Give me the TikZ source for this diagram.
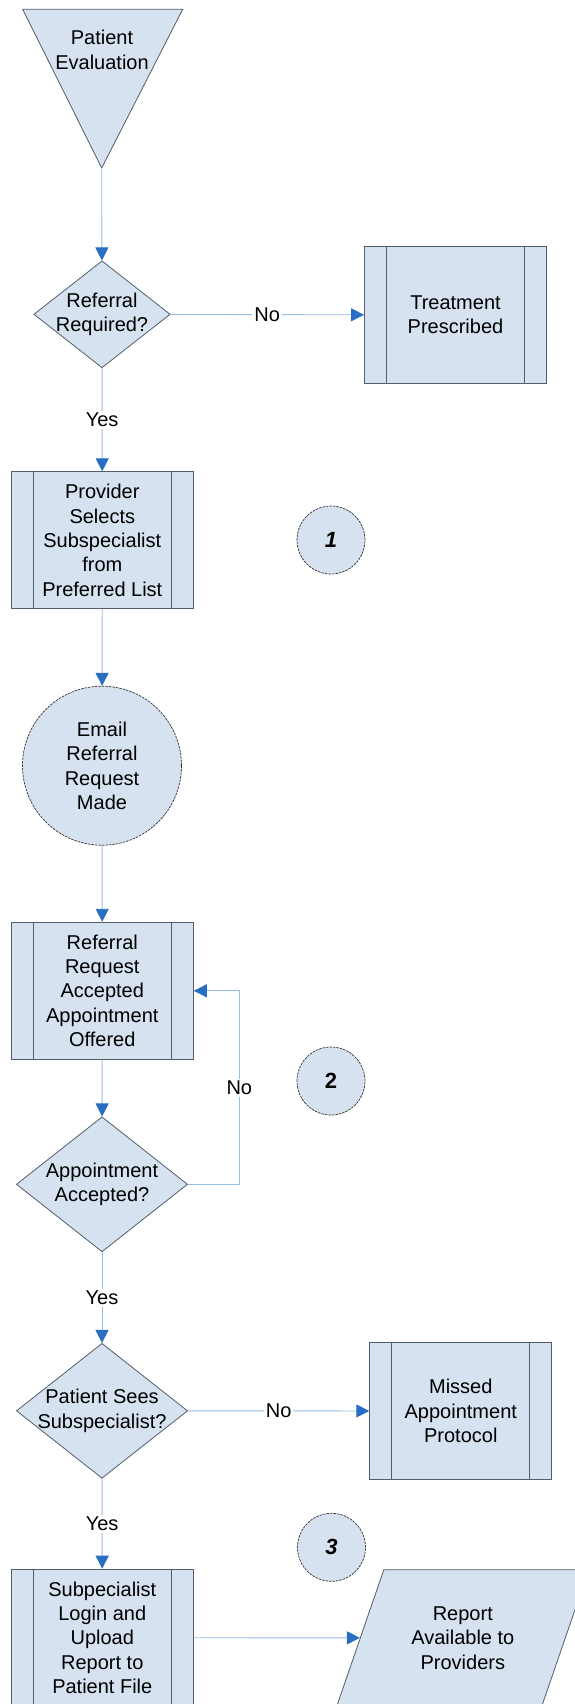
\documentclass[tikz,border=0pt]{standalone}
\usepackage{fontspec}
\setmainfont{Liberation Sans}
\usetikzlibrary{shapes.geometric,arrows.meta}
\definecolor{fillc}{RGB}{214,226,239}
\definecolor{bordc}{RGB}{82,94,108}
\definecolor{linec}{RGB}{150,190,230}
\definecolor{arrowc}{RGB}{40,110,195}
\tikzset{
  txt/.style={font=\fontsize{20}{24.3}\selectfont, align=center, inner sep=0pt, text=black},
  proc/.style={rectangle, draw=bordc, fill=fillc, line width=1pt, minimum width=182pt, minimum height=137pt, txt},
  subline/.style={draw=bordc, line width=1pt},
  dia/.style={diamond, draw=bordc, fill=fillc, line width=0.8pt, inner sep=0pt},
  bigcirc/.style={circle, draw=black!80, fill=fillc, line width=0.7pt, dash pattern=on 2.5pt off 1pt, inner sep=0pt, txt},
  numcirc/.style={circle, draw=black!80, fill=fillc, line width=0.7pt, dash pattern=on 2.5pt off 1pt, minimum size=68pt, inner sep=0pt, font=\fontsize{22}{26}\selectfont\bfseries},
  conn/.style={draw=linec, line width=0.9pt, -{Triangle[length=13pt,width=13pt,color=arrowc]}},
  lbl/.style={txt, fill=white, inner sep=2pt}
}
\begin{document}
\begin{tikzpicture}[x=1pt,y=-1pt]
\clip (0,0) rectangle (575,1704);
\fill[white] (0,0) rectangle (575,1704);

% start triangle
\coordinate (tapex) at (101.7,168);
\draw[draw=bordc, fill=fillc, line width=0.8pt] (22.7,9.3) -- (182.7,9.3) -- (tapex) -- cycle;
\node[txt] (pe) at (102,50) {Patient\\Evaluation};

% decision 1
\node[dia, minimum width=136.4pt, minimum height=107pt,
      label={[txt]center:Referral\\Required?}] (d1) at (102,314.3) {};
% treatment
\node[proc] (t1) at (455.5,315) {Treatment\\Prescribed};
% provider selects
\node[proc] (b1) at (102.3,540.3) {Provider\\Selects\\Subspecialist\\from\\Preferred List};
\node[numcirc, font=\fontsize{22}{26}\selectfont\bfseries\itshape] (c1) at (331,540) {1};
% email
\node[bigcirc, minimum size=159pt] (e1) at (102,765.7) {Email\\Referral\\Request\\Made};
% referral accepted
\node[proc] (b2) at (102.3,990.8) {Referral\\Request\\Accepted\\Appointment\\Offered};
\node[numcirc] (c2) at (331,1081) {2};
% decision 2
\node[dia, minimum width=171.2pt, minimum height=135pt,
      label={[txt]center:Appointment\\Accepted?}] (d2) at (102,1184.3) {};
% decision 3
\node[dia, minimum width=171.2pt, minimum height=135pt,
      label={[txt]center:Patient Sees\\Subspecialist?}] (d3) at (102,1410.8) {};
% missed
\node[proc] (m1) at (460.8,1411) {Missed\\Appointment\\Protocol};
\node[numcirc, font=\fontsize{22}{26}\selectfont\bfseries\itshape] (c3) at (331.5,1547.3) {3};
% upload
\node[proc] (b4) at (102.3,1637.7) {Subpecialist\\Login and\\Upload\\Report to\\Patient File};
% report parallelogram
\node[trapezium, trapezium stretches=true, trapezium left angle=63.9, trapezium right angle=116.1,
      draw=bordc, fill=fillc, line width=0.8pt, minimum width=252.5pt, minimum height=136.3pt, txt]
      (rep) at (462.8,1637.9) {Report\\Available to\\Providers};

% subroutine inner lines
\foreach \b in {t1,b1,b2,m1,b4}{
  \draw[subline] ([xshift=22.5pt]\b.north west) -- ([xshift=22.5pt]\b.south west);
  \draw[subline] ([xshift=-22.5pt]\b.north east) -- ([xshift=-22.5pt]\b.south east);
}

% connectors
\draw[conn] (tapex) -- (d1);
\draw[conn] (d1) -- node[lbl]{No} (t1);
\draw[conn] (d1) -- node[lbl]{Yes} (b1);
\draw[conn] (b1) -- (e1);
\draw[conn] (e1) -- (b2);
\draw[conn] (b2) -- (d2);
\coordinate (fb) at (239.3,1184.3);
\draw[conn] (d2.east) -- (fb) -- node[lbl]{No} (fb |- b2.east) -- (b2.east);
\draw[conn] (d2) -- node[lbl]{Yes} (d3);
\draw[conn] (d3) -- node[lbl]{No} (m1);
\draw[conn] (d3) -- node[lbl]{Yes} (b4);
\draw[conn] (b4) -- (rep);
\end{tikzpicture}
\end{document}
